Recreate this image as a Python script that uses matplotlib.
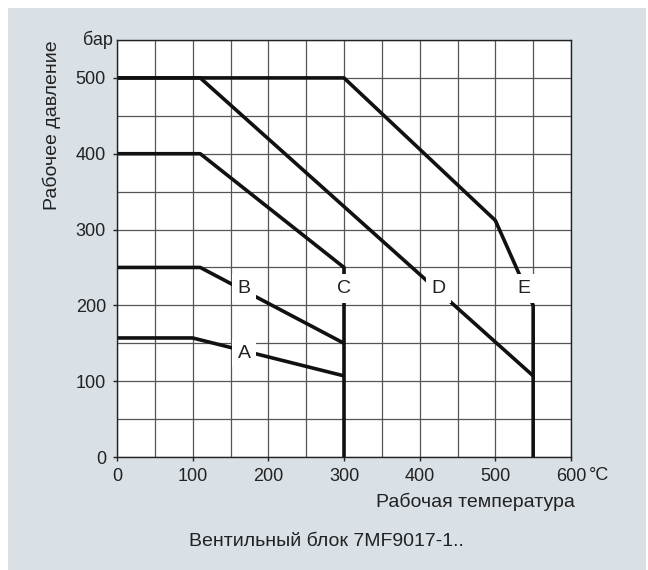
import matplotlib
matplotlib.use('Agg')
import matplotlib.pyplot as plt
from matplotlib.patches import Rectangle

plt.rcParams['font.family'] = ['Liberation Sans', 'DejaVu Sans']
plt.rcParams['font.size'] = 14

# curves: temperature (°C) vs pressure (bar)
a_temp = [0, 100, 300]
a_pres = [157, 157, 107]
b_temp = [0, 110, 300]
b_pres = [250, 250, 150]
c_temp = [0, 110, 300, 300]
c_pres = [400, 400, 250, 0]
d_temp = [0, 110, 550]
d_pres = [500, 500, 107]
e_temp = [0, 300, 500, 550, 550]
e_pres = [500, 500, 312, 200, 0]

curve_names = ['A', 'B', 'C', 'D', 'E']
label_temp = [168, 168, 300, 425, 538]
label_pres = [137, 222, 222, 222, 222]

x_ticks = [0, 100, 200, 300, 400, 500, 600]
y_ticks = [0, 100, 200, 300, 400, 500]

fig = plt.figure(figsize=(6.48, 5.70), dpi=100, facecolor='white')
# grey panel behind everything
fig.patches.append(Rectangle((8 / 648, 0), 638 / 648, 562 / 570, transform=fig.transFigure,
                             facecolor='#d9e0e6', edgecolor='none', zorder=-1))
ax = fig.add_axes([117 / 648, 1 - 457 / 570, 454 / 648, 417 / 570])
ax.set_facecolor('white')

for t, p in zip([a_temp, b_temp, c_temp, d_temp, e_temp],
                [a_pres, b_pres, c_pres, d_pres, e_pres]):
    ax.plot(t, p, color='#111111', lw=2.6, solid_capstyle='butt', zorder=2)

for name, t, p in zip(curve_names, label_temp, label_pres):
    ax.text(t, p, name, ha='center', va='center', color='#222222', zorder=4,
            bbox=dict(boxstyle='square,pad=0.3', fc='white', ec='none'))

ax.set_xlim(0, 600)
ax.set_ylim(0, 550)
ax.set_xticks(x_ticks)
ax.set_yticks(y_ticks)
ax.set_xticks(range(0, 601, 50), minor=True)
ax.set_yticks(range(0, 551, 50), minor=True)
ax.tick_params(which='major', direction='out', length=3, width=1, pad=5,
               colors='#222222', labelsize=13)
ax.tick_params(which='minor', length=0)
ax.set_axisbelow(True)
ax.grid(which='both', color='#555555', lw=0.9)
for s in ax.spines.values():
    s.set_color('#222222')
    s.set_linewidth(1)

ax.annotate('°C', xy=(1, 0), xycoords='axes fraction', xytext=(13, -7.5),
            textcoords='offset points', ha='left', va='top', color='#222222', fontsize=13)
ax.text(-0.009, 1.0, 'бар', transform=ax.transAxes, ha='right', va='center',
        color='#222222', fontsize=13)
ax.text(-0.143, 1.0, 'Рабочее давление', transform=ax.transAxes, rotation=90,
        ha='center', va='top', color='#222222')
ax.text(1.009, -0.108, 'Рабочая температура', transform=ax.transAxes,
        ha='right', va='center', color='#222222')
fig.text(326 / 648, 1 - 542 / 570, 'Вентильный блок 7MF9017-1..', ha='center', va='center',
         color='#222222')

fig.savefig('out.png', dpi=100, facecolor=fig.get_facecolor())
